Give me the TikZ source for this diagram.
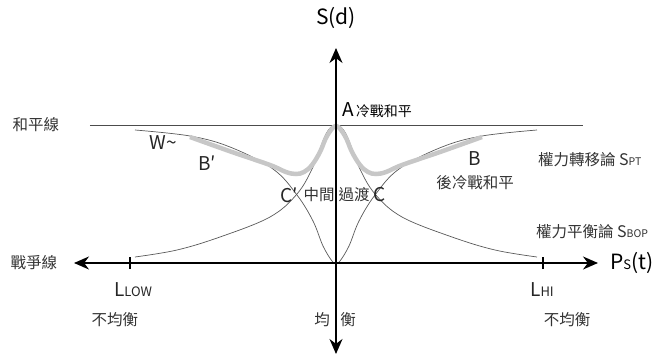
\documentclass[tikz,border=0pt]{standalone}
\usepackage{fontspec}
\setmainfont{Noto Sans CJK TC}
\usetikzlibrary{arrows.meta}

\begin{document}
\begin{tikzpicture}[x=1pt, y=1pt, >={Stealth[length=15pt,width=13pt]},
    thincurve/.style={draw=black!65, line width=0.7pt},
    envelope/.style={draw=black!22, line width=4.5pt},
    cjk/.style={font=\fontsize{15.5}{17}\selectfont, text=black!80, inner sep=1pt},
    latin/.style={font=\fontsize{19}{21}\selectfont, text=black!85, inner sep=1pt}]
    \useasboundingbox (-336,-93) rectangle (319,263);

    % 和平線
    \coordinate (pl) at (-246,138);
    \coordinate (pr) at (247,138);
    \draw[black!70, line width=0.8pt] (pl) -- (pr);

    % 權力平衡論 (鐘形)
    \draw[thincurve] plot[smooth, tension=0.6] coordinates {(-201,6) (-159,13) (-116,26) (-66,46)
        (-39,69) (-23,96) (-10,129) (0,138) (10,129) (23,96) (39,69) (66,46) (116,26) (159,13) (201,6)};

    % 權力轉移論
    \draw[thincurve] plot[smooth, tension=0.6] coordinates {(-201,133) (-146,127) (-106,116) (-63,94)
        (-39,68) (-23,42) (-13,17) (-4,2) (0,0) (4,2) (13,17) (23,42) (39,68) (63,94) (106,116) (146,127) (201,133)};

    % 灰色包絡線
    \draw[envelope] plot[smooth, tension=0.6] coordinates {(-146,126) (-104,111) (-66,98) (-50,91)
        (-40,89) (-32,91) (-24,98) (-16,111) (-9,127) (0,137) (9,127) (16,111) (24,98) (32,91)
        (40,89) (50,91) (66,98) (104,111) (146,126)};

    % 座標軸
    \coordinate (xl) at (-262,0);
    \coordinate (xr) at (262,0);
    \coordinate (yb) at (0,-91);
    \coordinate (yt) at (0,215);
    \draw[<->, line width=1.8pt] (xl) -- (xr);
    \draw[<->, line width=1.8pt] (yb) -- (yt);

    % 刻度
    \draw[line width=1.5pt] (-206,-6) -- (-206,6);
    \draw[line width=1.5pt] (207,-6) -- (207,6);

    % 軸標籤
    \node[font=\fontsize{21}{23}\selectfont] (sd) at (0,245) {S(d)};
    \node[anchor=west, font=\fontsize{21}{23}\selectfont, inner sep=0pt] (ps) at (274,0)
        {P{\fontsize{13}{15}\selectfont S}(t)};
    \node[cjk] (peace) at (-300,138) {和平線};
    \node[cjk] (war) at (-302,0) {戰爭線};

    % 點 A, B, B', C, C', W
    \node[anchor=west, inner sep=0pt] (a) at (6,153)
        {{\fontsize{19}{21}\selectfont A}\hspace{2pt}{\fontsize{14}{16}\selectfont 冷戰和平}};
    \node[latin] (w) at (-173,120) {W\textasciitilde};
    \node[latin] (bp) at (-129,100) {B′};
    \node[latin] (b) at (139,104) {B};
    \node[cjk] (postcw) at (139,80) {後冷戰和平};
    \node[latin] (cp) at (-47,68) {C′};
    \node[latin] (c) at (44,68) {C};
    \node[cjk] (mid) at (-17,68) {中間};
    \node[cjk] (trans) at (18,68) {過渡};

    % 理論名稱
    \node[cjk, anchor=west] (spt) at (201,103)
        {權力轉移論 {\fontsize{16}{18}\selectfont S}{\fontsize{10.5}{12}\selectfont PT}};
    \node[cjk, anchor=west] (sbop) at (199,31)
        {權力平衡論 {\fontsize{16}{18}\selectfont S}{\fontsize{10.5}{12}\selectfont BOP}};

    % L 與 均衡
    \node[font=\fontsize{19}{21}\selectfont, text=black!85] (llow) at (-203,-27)
        {L{\fontsize{13}{15}\selectfont LOW}};
    \node[font=\fontsize{19}{21}\selectfont, text=black!85] (lhi) at (206,-27)
        {L{\fontsize{13}{15}\selectfont HI}};
    \node[cjk] (ul) at (-221,-57) {不均衡};
    \node[cjk] (ur) at (231,-57) {不均衡};
    \node[cjk] (jun) at (-14,-57) {均};
    \node[cjk] (heng) at (12,-57) {衡};
\end{tikzpicture}
\end{document}
